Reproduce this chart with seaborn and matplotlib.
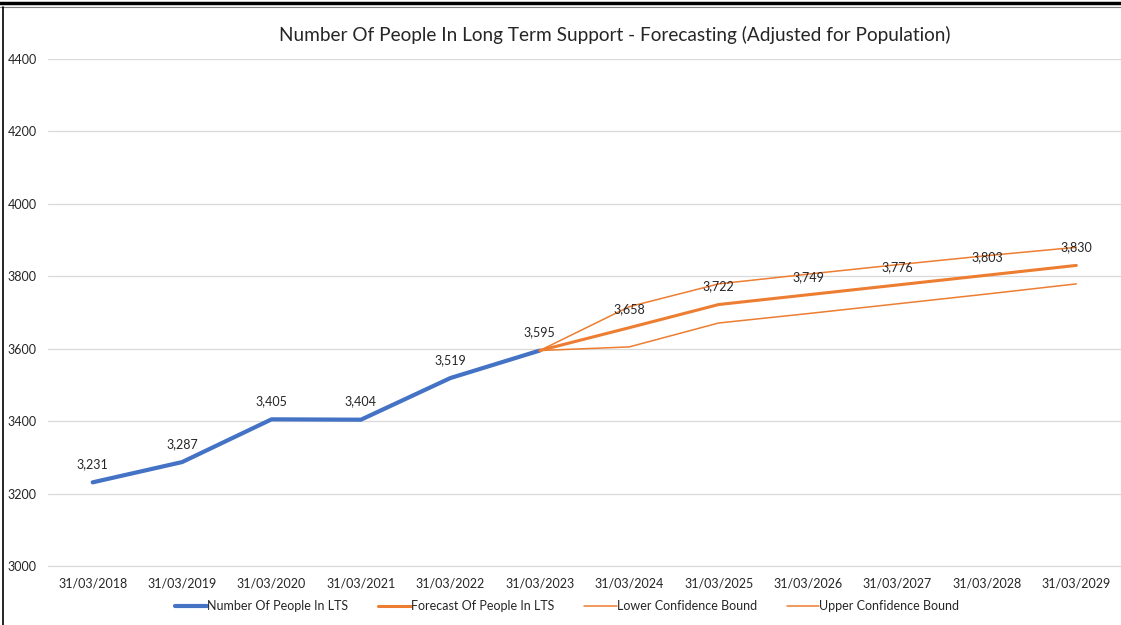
import seaborn as sns
import matplotlib.pyplot as plt
import matplotlib.lines as mlines
import pandas as pd

sns.set_style('white')
plt.rcParams['font.family'] = ['Lato', 'DejaVu Sans']

# Data
dates = ['31/03/2018', '31/03/2019', '31/03/2020', '31/03/2021', '31/03/2022', '31/03/2023',
         '31/03/2024', '31/03/2025', '31/03/2026', '31/03/2027', '31/03/2028', '31/03/2029']
actual = [3231, 3287, 3405, 3404, 3519, 3595]
forecast = [3595, 3658, 3722, 3749, 3776, 3803, 3830]
lower = [3595, 3605, 3671, 3697, 3724, 3751, 3779]
upper = [3595, 3716, 3779, 3806, 3832, 3857, 3880]

blue = '#4472C4'
orange = '#ED7D31'

idx = list(range(len(dates)))
act_df = pd.DataFrame({'x': idx[:len(actual)], 'y': actual})
fc_df = pd.DataFrame({'x': idx[len(actual) - 1:], 'forecast': forecast,
                      'lower': lower, 'upper': upper})

fig = plt.figure(figsize=(11.21, 6.25), dpi=100)
ax = fig.add_axes([48 / 1121, 59 / 625, 1 - 48 / 1121, 507 / 625])

sns.lineplot(data=act_df, x='x', y='y', ax=ax, color=blue, linewidth=3,
             label='Number Of People In LTS')
sns.lineplot(data=fc_df, x='x', y='forecast', ax=ax, color=orange, linewidth=2.2,
             label='Forecast Of People In LTS')
sns.lineplot(data=fc_df, x='x', y='lower', ax=ax, color=orange, linewidth=1.1,
             label='Lower Confidence Bound')
sns.lineplot(data=fc_df, x='x', y='upper', ax=ax, color=orange, linewidth=1.1,
             label='Upper Confidence Bound')

# data labels
for x, v in zip(act_df['x'], act_df['y']):
    ax.annotate(f'{v:,}', (x, v), xytext=(0, 13), textcoords='offset points',
                ha='center', va='center', fontsize=9, color='#262626')
for x, v in zip(fc_df['x'][1:], fc_df['forecast'][1:]):
    ax.annotate(f'{v:,}', (x, v), xytext=(0, 13), textcoords='offset points',
                ha='center', va='center', fontsize=9, color='#262626')

ax.set_xlim(-0.5, len(dates) - 0.5)
ax.set_ylim(3000, 4400)
ax.set_yticks(range(3000, 4401, 200))
ax.set_xticks(idx)
ax.set_xticklabels(dates)
ax.set_xticks([i - 0.5 for i in range(len(dates) + 1)], minor=True)
ax.tick_params(axis='x', which='major', length=0, pad=8, labelsize=9, labelcolor='#262626')
ax.tick_params(axis='x', which='minor', length=5, width=0.8, color='#D9D9D9')
ax.tick_params(axis='y', length=0, pad=8, labelsize=9, labelcolor='#262626')
ax.set_xlabel('')
ax.set_ylabel('')
ax.grid(axis='y', color='#D9D9D9', linewidth=0.9)
for s in ['top', 'right', 'left']:
    ax.spines[s].set_visible(False)
ax.spines['bottom'].set_color('#D9D9D9')
ax.set_axisbelow(True)

fig.text(615 / 1121, 1 - 35 / 625, 'Number Of People In Long Term Support - Forecasting (Adjusted for Population)',
         ha='center', va='center', fontsize=13.7, color='#262626')

ax.legend(loc='center', bbox_to_anchor=(567 / 1121, 19 / 625), bbox_transform=fig.transFigure,
          ncol=4, frameon=False, fontsize=9, handlelength=2.6, handletextpad=0.0,
          columnspacing=2.4)

# frame lines from the screenshot
fig.add_artist(mlines.Line2D([0, 1], [1 - 3 / 625, 1 - 3 / 625], color='black', linewidth=2.5))
fig.add_artist(mlines.Line2D([0, 1], [1 - 7 / 625, 1 - 7 / 625], color='#7F7F7F', linewidth=0.8))
fig.add_artist(mlines.Line2D([3 / 1121, 3 / 1121], [0, 1 - 7 / 625], color='black', linewidth=1.2))

fig.savefig('out.png', dpi=100)
